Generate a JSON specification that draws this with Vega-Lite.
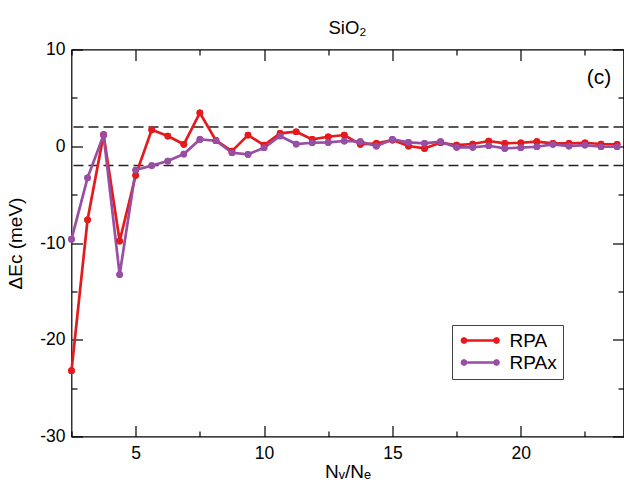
{
  "$schema": "https://vega.github.io/schema/vega-lite/v6.json",
  "width": 552,
  "height": 387,
  "autosize": {"type": "none"},
  "padding": {"left": 71.5, "top": 49.5, "right": 0.5, "bottom": 50.5},
  "title": {"text": "SiO₂", "font": "Liberation Sans", "fontSize": 18.5, "fontWeight": "normal", "baseline": "alphabetic", "offset": -12, "color": "black", "anchor": "middle"},
  "config": {
    "view": {"stroke": "black", "strokeWidth": 1.2},
    "font": "Liberation Sans",
    "axis": {"domain": false, "grid": false, "labelFont": "Liberation Sans", "labelFontSize": 17.5, "labelColor": "black", "tickColor": "black", "tickWidth": 1.2, "titleFont": "Liberation Sans", "titleFontSize": 19, "titleFontWeight": "normal", "titleColor": "black"}
  },
  "datasets": {
    "series": [
      {"x": 2.5, "series": "RPA", "dE": -23.2},
      {"x": 3.125, "series": "RPA", "dE": -7.6},
      {"x": 3.75, "series": "RPA", "dE": 1.2},
      {"x": 4.375, "series": "RPA", "dE": -9.8},
      {"x": 5.0, "series": "RPA", "dE": -3.0},
      {"x": 5.625, "series": "RPA", "dE": 1.7},
      {"x": 6.25, "series": "RPA", "dE": 1.05},
      {"x": 6.875, "series": "RPA", "dE": 0.2},
      {"x": 7.5, "series": "RPA", "dE": 3.45},
      {"x": 8.125, "series": "RPA", "dE": 0.6},
      {"x": 8.75, "series": "RPA", "dE": -0.5},
      {"x": 9.375, "series": "RPA", "dE": 1.15},
      {"x": 10.0, "series": "RPA", "dE": 0.12},
      {"x": 10.625, "series": "RPA", "dE": 1.33},
      {"x": 11.25, "series": "RPA", "dE": 1.5},
      {"x": 11.875, "series": "RPA", "dE": 0.71},
      {"x": 12.5, "series": "RPA", "dE": 0.98},
      {"x": 13.125, "series": "RPA", "dE": 1.16},
      {"x": 13.75, "series": "RPA", "dE": 0.2},
      {"x": 14.375, "series": "RPA", "dE": 0.3},
      {"x": 15.0, "series": "RPA", "dE": 0.64},
      {"x": 15.625, "series": "RPA", "dE": 0.02},
      {"x": 16.25, "series": "RPA", "dE": -0.22},
      {"x": 16.875, "series": "RPA", "dE": 0.36},
      {"x": 17.5, "series": "RPA", "dE": 0.12},
      {"x": 18.125, "series": "RPA", "dE": 0.23},
      {"x": 18.75, "series": "RPA", "dE": 0.54},
      {"x": 19.375, "series": "RPA", "dE": 0.3},
      {"x": 20.0, "series": "RPA", "dE": 0.36},
      {"x": 20.625, "series": "RPA", "dE": 0.47},
      {"x": 21.25, "series": "RPA", "dE": 0.3},
      {"x": 21.875, "series": "RPA", "dE": 0.3},
      {"x": 22.5, "series": "RPA", "dE": 0.36},
      {"x": 23.125, "series": "RPA", "dE": 0.23},
      {"x": 23.75, "series": "RPA", "dE": 0.2},
      {"x": 2.5, "series": "RPAx", "dE": -9.6},
      {"x": 3.125, "series": "RPAx", "dE": -3.26},
      {"x": 3.75, "series": "RPAx", "dE": 1.16},
      {"x": 4.375, "series": "RPAx", "dE": -13.26},
      {"x": 5.0, "series": "RPAx", "dE": -2.46},
      {"x": 5.625, "series": "RPAx", "dE": -2.0},
      {"x": 6.25, "series": "RPAx", "dE": -1.53},
      {"x": 6.875, "series": "RPAx", "dE": -0.81},
      {"x": 7.5, "series": "RPAx", "dE": 0.71},
      {"x": 8.125, "series": "RPAx", "dE": 0.57},
      {"x": 8.75, "series": "RPAx", "dE": -0.67},
      {"x": 9.375, "series": "RPAx", "dE": -0.84},
      {"x": 10.0, "series": "RPAx", "dE": -0.15},
      {"x": 10.625, "series": "RPAx", "dE": 1.06},
      {"x": 11.25, "series": "RPAx", "dE": 0.23},
      {"x": 11.875, "series": "RPAx", "dE": 0.36},
      {"x": 12.5, "series": "RPAx", "dE": 0.4},
      {"x": 13.125, "series": "RPAx", "dE": 0.54},
      {"x": 13.75, "series": "RPAx", "dE": 0.47},
      {"x": 14.375, "series": "RPAx", "dE": 0.02},
      {"x": 15.0, "series": "RPAx", "dE": 0.71},
      {"x": 15.625, "series": "RPAx", "dE": 0.4},
      {"x": 16.25, "series": "RPAx", "dE": 0.3},
      {"x": 16.875, "series": "RPAx", "dE": 0.47},
      {"x": 17.5, "series": "RPAx", "dE": -0.11},
      {"x": 18.125, "series": "RPAx", "dE": -0.11},
      {"x": 18.75, "series": "RPAx", "dE": 0.05},
      {"x": 19.375, "series": "RPAx", "dE": -0.22},
      {"x": 20.0, "series": "RPAx", "dE": -0.15},
      {"x": 20.625, "series": "RPAx", "dE": -0.05},
      {"x": 21.25, "series": "RPAx", "dE": 0.2},
      {"x": 21.875, "series": "RPAx", "dE": 0.02},
      {"x": 22.5, "series": "RPAx", "dE": 0.12},
      {"x": 23.125, "series": "RPAx", "dE": -0.05},
      {"x": 23.75, "series": "RPAx", "dE": -0.05}
    ],
    "bounds": [{"b": -2}, {"b": 2}],
    "note": [{"x": 23.05, "y": 6.4, "t": "(c)"}]
  },
  "layer": [
    {
      "data": {"name": "bounds"},
      "mark": {"type": "rule", "strokeDash": [10, 5], "strokeWidth": 1.5, "color": "#222222"},
      "encoding": {
        "y": {"field": "b", "type": "quantitative", "scale": {"domain": [-30, 10], "nice": false, "zero": false}, "axis": null}
      }
    },
    {
      "data": {"name": "series"},
      "mark": {"type": "point", "filled": true, "size": 45, "opacity": 1},
      "encoding": {
        "x": {"field": "x", "type": "quantitative", "scale": {"domain": [2.5, 24], "nice": false, "zero": false},
              "axis": {"orient": "top", "values": [5, 10, 15, 20], "tickSize": -11, "labels": false, "title": null}},
        "y": {"field": "dE", "type": "quantitative", "axis": {"orient": "right", "values": [-30, -20, -10, 0, 10], "tickSize": -11, "labels": false, "title": null}},
        "color": {"field": "series", "type": "nominal", "scale": {"domain": ["RPA", "RPAx"], "range": ["#e41a1c", "#984ea3"]},
                  "legend": {"orient": "none", "legendX": 380.5, "legendY": 275.5, "title": null,
                             "symbolType": "M0,0L-0.146,0.354L-0.5,0.5L-0.854,0.354L-1,0L-0.854,-0.354L-0.5,-0.5L-0.146,-0.354Z M4.64,0L4.494,0.354L4.14,0.5L3.786,0.354L3.64,0L3.786,-0.354L4.14,-0.5L4.494,-0.354Z M-0.5,-0.19L4.14,-0.19L4.14,0.19L-0.5,0.19Z",
                             "symbolSize": 196, "symbolStrokeWidth": 0, "labelFontSize": 19, "labelFont": "Liberation Sans", "labelColor": "black",
                             "labelOffset": 32.5, "padding": 6, "rowPadding": 2, "strokeColor": "#444444", "fillColor": "white"}}
      }
    },
    {
      "data": {"name": "series"},
      "mark": {"type": "line", "strokeWidth": 2.7},
      "encoding": {
        "x": {"field": "x", "type": "quantitative",
              "axis": {"orient": "bottom", "values": [5, 10, 15, 20], "tickSize": -11, "labelPadding": 18.8, "title": "Nᵥ/Nₑ", "titleBaseline": "alphabetic", "titleY": 41.3}},
        "y": {"field": "dE", "type": "quantitative", "scale": {"domain": [-30, 10], "nice": false, "zero": false},
              "axis": {"orient": "left", "values": [-30, -20, -10, 0, 10], "tickSize": -11, "labelPadding": 17.5, "labelExpr": "datum.value < 0 ? '-' + abs(datum.value) : '' + datum.value", "title": "ΔEc (meV)", "titleBaseline": "alphabetic", "titleX": -50}},
        "stroke": {"field": "series", "type": "nominal", "scale": {"domain": ["RPA", "RPAx"], "range": ["#e41a1c", "#984ea3"]}, "legend": null}
      }
    },
    {
      "data": {"name": "series"},
      "mark": {"type": "point", "filled": true, "size": 45, "opacity": 1},
      "encoding": {
        "x": {"field": "x", "type": "quantitative", "axis": null},
        "y": {"field": "dE", "type": "quantitative", "axis": null},
        "color": {"field": "series", "type": "nominal", "legend": null}
      }
    },
    {
      "data": {"name": "series"},
      "mark": {"type": "point", "opacity": 0},
      "encoding": {
        "x": {"field": "x", "type": "quantitative", "axis": {"orient": "bottom", "values": [2.5, 7.5, 12.5, 17.5, 22.5], "tickSize": -5.5, "labels": false, "title": null}},
        "y": {"field": "dE", "type": "quantitative", "axis": {"orient": "left", "values": [-25, -15, -5, 5], "tickSize": -5.5, "labels": false, "title": null}}
      }
    },
    {
      "data": {"name": "series"},
      "mark": {"type": "point", "opacity": 0},
      "encoding": {
        "x": {"field": "x", "type": "quantitative", "axis": {"orient": "top", "values": [2.5, 7.5, 12.5, 17.5, 22.5], "tickSize": -5.5, "labels": false, "title": null}},
        "y": {"field": "dE", "type": "quantitative", "axis": {"orient": "right", "values": [-25, -15, -5, 5], "tickSize": -5.5, "labels": false, "title": null}}
      }
    },
    {
      "data": {"name": "note"},
      "mark": {"type": "text", "fontSize": 21, "align": "center", "baseline": "alphabetic", "color": "black", "font": "Liberation Sans"},
      "encoding": {
        "x": {"field": "x", "type": "quantitative", "axis": null},
        "y": {"field": "y", "type": "quantitative", "axis": null},
        "text": {"field": "t"}
      }
    }
  ],
  "resolve": {"axis": {"x": "independent", "y": "independent"}}
}
